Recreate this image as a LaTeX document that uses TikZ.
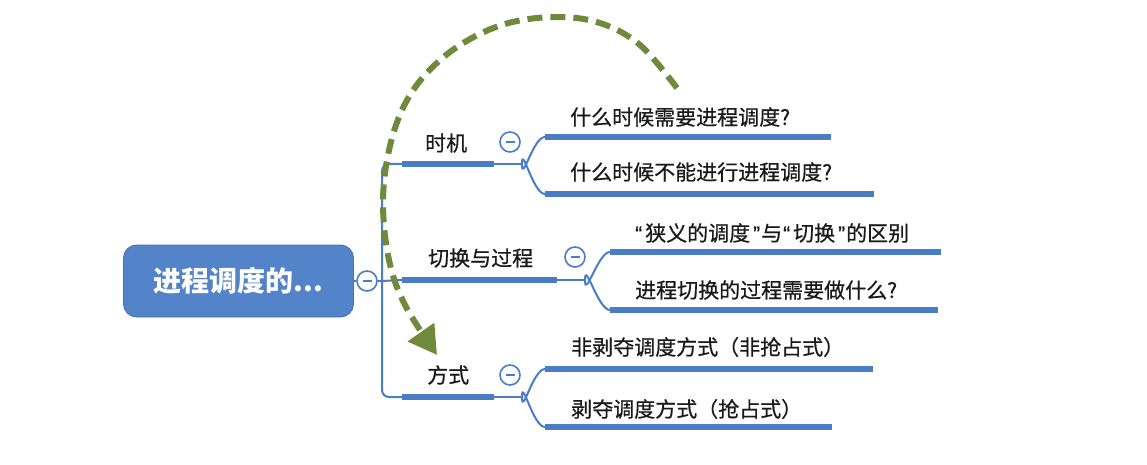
\documentclass[tikz,border=0pt]{standalone}
\usepackage{fontspec}
\setmainfont{Noto Sans CJK SC}
\newfontfamily\lblfont{Noto Sans CJK SC}[FakeBold=0.6]
\newfontfamily\qfont{Liberation Sans}[FakeBold=0.6]
\newcommand\qL{{\qfont\kern1pt “\kern3pt}}
\newcommand\qR{{\qfont\kern3pt ”\kern1pt}}
\usetikzlibrary{arrows.meta}
\definecolor{mmblue}{HTML}{4A7DC6}
\definecolor{rootblue}{HTML}{5383C8}
\definecolor{arcgreen}{HTML}{6E8A3A}
\definecolor{txt}{HTML}{1A1A1A}
\begin{document}
\begin{tikzpicture}[x=1pt,y=-1pt,
  thinline/.style={draw=mmblue, line width=2pt},
  barline/.style={draw=mmblue, line width=6pt},
  lbl/.style={anchor=west, inner sep=0pt, text=txt, font=\lblfont\fontsize{21}{25}\selectfont},
  tog/.style={circle, draw=mmblue, fill=white, line width=1.6pt, minimum size=20pt, inner sep=0pt,
    path picture={\draw[mmblue,line width=1.6pt] ([xshift=-4.5pt]path picture bounding box.center) -- ([xshift=4.5pt]path picture bounding box.center);}},
  rootbox/.style={rectangle, rounded corners=13pt, fill=rootblue, draw=rootblue!85!black, line width=0.8pt,
    minimum width=230pt, minimum height=72pt, text=white, font=\fontsize{28}{32}\selectfont\bfseries},
  arc/.style={draw=arcgreen, line width=6pt, dash pattern=on 15pt off 8pt,
    -{Triangle[length=28pt,width=31pt,fill=arcgreen]}},
]
\path[fill=white] (0,0) rectangle (1147,465);
\useasboundingbox (0,0) rectangle (1147,465);

% root
\node[rootbox] (root) at (238.5,281) {进程调度的...};
\node[tog] (c0) at (367,281) {};

% trunk coordinates
\coordinate (tr) at (382,281);
\coordinate (b1s) at (402,164);
\coordinate (b1e) at (494,164);
\coordinate (f1) at (522,164);
\coordinate (b2s) at (402,280);
\coordinate (b2e) at (557,280);
\coordinate (f2) at (585,280);
\coordinate (b3s) at (402,397);
\coordinate (b3e) at (494,397);
\coordinate (f3) at (522,397);

% sub bars
\coordinate (s11s) at (545,137); \coordinate (s11e) at (831,137);
\coordinate (s12s) at (545,194); \coordinate (s12e) at (874,194);
\coordinate (s21s) at (610,252); \coordinate (s21e) at (941,252);
\coordinate (s22s) at (610,310); \coordinate (s22e) at (938,310);
\coordinate (s31s) at (545,369); \coordinate (s31e) at (873,369);
\coordinate (s32s) at (545,427); \coordinate (s32e) at (832,427);

% labels
\node[lbl] (b1) at (425,143) {时机};
\node[lbl] (b2) at (428,258) {切换与过程};
\node[lbl] (b3) at (427,375) {方式};
\node[lbl] (s11) at (570,117) {什么时候需要进程调度?};
\node[lbl] (s12) at (570,172) {什么时候不能进行进程调度?};
\node[lbl] (s21) at (634,233) {\qL 狭义的调度\qR 与\qL 切换\qR 的区别};
\node[lbl] (s22) at (635,290) {进程切换的过程需要做什么?};
\node[lbl] (s31) at (571,347) {非剥夺调度方式（非抢占式）};
\node[lbl] (s32) at (571,409) {剥夺调度方式（抢占式）};

% connectors
\draw[thinline] (root.east) -- (c0.west);
\draw[thinline] (c0.east) -- (tr);
\draw[thinline, rounded corners=7pt] (b1s) -| (tr) |- (b3s);
\draw[thinline] (tr) -- (b2s);

\foreach \s/\e/\f in {b1s/b1e/f1, b2s/b2e/f2, b3s/b3e/f3}{
  \draw[barline] (\s) -- (\e);
  \draw[thinline] (\e) -- (\f);
}
\draw[thinline] (f1) .. controls ([yshift=-20pt]f1) and ([xshift=-12pt]s11s) .. (s11s);
\draw[thinline] (f1) .. controls ([yshift=20pt]f1) and ([xshift=-12pt]s12s) .. (s12s);
\draw[thinline] (f2) .. controls ([yshift=-20pt]f2) and ([xshift=-12pt]s21s) .. (s21s);
\draw[thinline] (f2) .. controls ([yshift=20pt]f2) and ([xshift=-12pt]s22s) .. (s22s);
\draw[thinline] (f3) .. controls ([yshift=-20pt]f3) and ([xshift=-12pt]s31s) .. (s31s);
\draw[thinline] (f3) .. controls ([yshift=20pt]f3) and ([xshift=-12pt]s32s) .. (s32s);
\foreach \s/\e in {s11s/s11e, s12s/s12e, s21s/s21e, s22s/s22e, s31s/s31e, s32s/s32e}{
  \draw[barline] (\s) -- (\e);
}

% toggles
\node[tog] (c1) at (510,142) {};
\node[tog] (c2) at (575,257) {};
\node[tog] (c3) at (510,375) {};

% green dashed arc
\draw[arc] plot[smooth, tension=0.6] coordinates {(677,88) (640,45) (600,23) (555,17) (505,24) (460,45) (425,75) (402,110) (388,155) (383,205) (389,260) (405,305) (437,355)};
\end{tikzpicture}
\end{document}
